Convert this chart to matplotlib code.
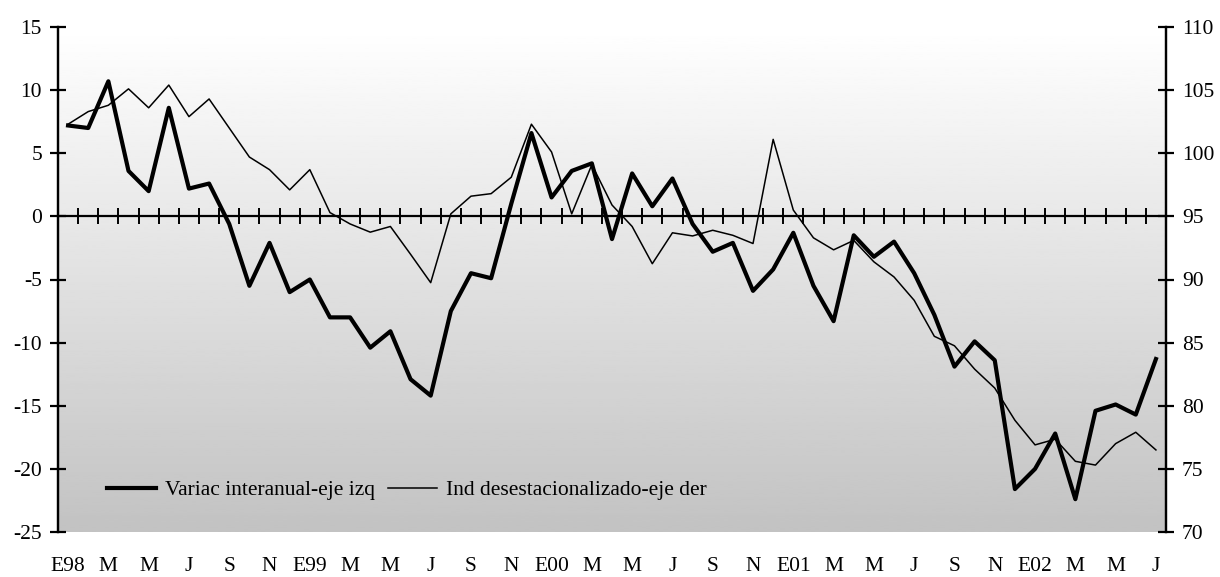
import numpy as np
import matplotlib
matplotlib.use('Agg')
import matplotlib.pyplot as plt

plt.rcParams['font.family'] = ['Liberation Serif', 'DejaVu Serif']
plt.rcParams['axes.unicode_minus'] = False

# monthly, Jan 1998 .. Jul 2002
variac = [7.2, 7.0, 10.7, 3.6, 2.0, 8.6, 2.2, 2.6, -0.6, -5.5,
          -2.1, -6.0, -5.0, -8.0, -8.0, -10.4, -9.1, -12.9, -14.2, -7.5,
          -4.5, -4.9, 1.0, 6.6, 1.5, 3.6, 4.2, -1.8, 3.4, 0.8,
          3.0, -0.6, -2.8, -2.1, -5.9, -4.2, -1.3, -5.5, -8.3, -1.5,
          -3.2, -2.0, -4.5, -7.8, -11.9, -9.9, -11.4, -21.6, -20.0, -17.2,
          -22.4, -15.4, -14.9, -15.7, -11.3]
indice = [102.3, 103.3, 103.8, 105.1, 103.6, 105.4, 102.9, 104.3, 102.0, 99.7,
          98.7, 97.1, 98.7, 95.3, 94.4, 93.75, 94.2, 92.0, 89.75, 95.2,
          96.6, 96.8, 98.1, 102.3, 100.1, 95.2, 99.1, 95.9, 94.2, 91.25,
          93.7, 93.45, 93.9, 93.5, 92.85, 101.1, 95.5, 93.3, 92.35, 93.1,
          91.4, 90.2, 88.35, 85.5, 84.75, 82.9, 81.4, 78.85, 76.9, 77.35,
          75.6, 75.3, 77.0, 77.9, 76.5]
meses = ['E98', 'M', 'M', 'J', 'S', 'N',
         'E99', 'M', 'M', 'J', 'S', 'N',
         'E00', 'M', 'M', 'J', 'S', 'N',
         'E01', 'M', 'M', 'J', 'S', 'N',
         'E02', 'M', 'M', 'J']

x = np.arange(len(variac))
fs = 15.5

fig = plt.figure(figsize=(12.2, 5.77), dpi=100)
ax = fig.add_axes([58/1220, 1 - 532/577, 1108/1220, 505/577])
ax2 = ax.twinx()

# gradient background
grad = np.linspace(0, 1, 256).reshape(-1, 1)
ax.imshow(grad, extent=(-0.5, len(x) - 0.5, -25, 15), aspect='auto',
          cmap='gray_r', vmin=0, vmax=4.2, origin='upper', zorder=0)

ax.set_xlim(-0.5, len(x) - 0.5)
ax.set_ylim(-25, 15)
ax2.set_ylim(70, 110)

# zero line with month ticks
ax.axhline(0, color='black', lw=1.6, zorder=2)
bounds = np.arange(len(x) - 1) + 0.5
ax.plot(bounds, np.zeros_like(bounds), ls='none', marker='|', ms=11,
        mew=1.4, color='black', zorder=2)

l1, = ax.plot(x, variac, color='black', lw=3.0, zorder=3,
              label='Variac interanual-eje izq')
l2, = ax2.plot(x, indice, color='black', lw=1.1, zorder=3,
               label='Ind desestacionalizado-eje der')

for a in (ax, ax2):
    a.spines['top'].set_visible(False)
    a.spines['bottom'].set_visible(False)
    a.spines['left'].set_linewidth(1.6)
    a.spines['right'].set_linewidth(1.6)

ax.set_yticks(np.arange(-25, 16, 5))
ax.tick_params(axis='y', direction='inout', length=11, width=1.6,
               labelsize=fs, pad=6)
ax2.set_yticks(np.arange(70, 111, 5))
ax2.tick_params(axis='y', direction='inout', length=11, width=1.6,
                labelsize=fs, pad=6)

ax.set_xticks(x[::2])
ax.set_xticklabels(meses)
ax.tick_params(axis='x', length=0, labelsize=fs, pad=18)

leg = ax.legend(handles=[l1, l2], loc='center left',
                bbox_to_anchor=(0.044, 0.083), ncol=2, frameon=False,
                fontsize=fs, handlelength=2.3, handletextpad=0.4,
                columnspacing=0.6, borderpad=0, borderaxespad=0)

fig.savefig('out.png', dpi=100)
